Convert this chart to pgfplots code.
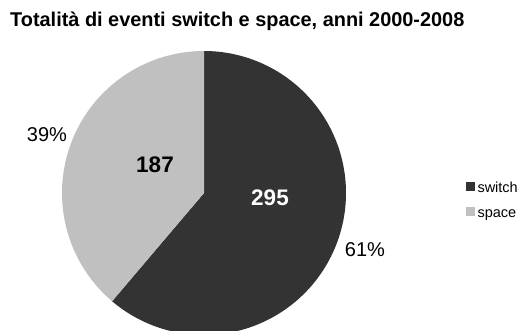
\documentclass[border=0pt]{standalone}
\usepackage{pgfplots}
\pgfplotsset{compat=1.18}
\usepackage{fontspec}
\setmainfont{Liberation Sans}
\definecolor{dk}{HTML}{333333}
\definecolor{lt}{HTML}{C0C0C0}
\begin{document}
\begin{tikzpicture}[x=1pt,y=1pt]
\pgfmathsetmacro{\vA}{295}
\pgfmathsetmacro{\vB}{187}
\pgfmathsetmacro{\frA}{\vA/(\vA+\vB)}
\pgfmathsetmacro{\angA}{90-360*\frA}
\pgfmathsetmacro{\angB}{\angA+360}
\begin{axis}[at={(0,0)}, anchor=origin, x=1pt, y=1pt,
  xmin=0, xmax=524, ymin=0, ymax=331, hide axis, clip=true,
  legend style={at={(axis cs:466,149)}, anchor=north west, draw=none, fill=none,
    inner sep=0pt, outer sep=0pt, row sep=10pt,
    font=\fontsize{14.5}{14.5}\selectfont,
    nodes={inner sep=1pt, text height=9pt, text depth=3pt},
    /tikz/every odd column/.append style={column sep=1.5pt}},
  legend cell align=left,
  legend image code/.code={\fill[#1] (0pt,-1pt) rectangle (9pt,8pt);}]
\addplot[fill=dk, draw=none, domain=\angA:90, samples=200] ({204+142*cos(x)},{138+142*sin(x)}) -- (axis cs:204,138) -- cycle;
\addlegendentry{switch}
\addplot[fill=lt, draw=none, domain=90:\angB, samples=200] ({204+142*cos(x)},{138+142*sin(x)}) -- (axis cs:204,138) -- cycle;
\addlegendentry{space}
\end{axis}
\node[anchor=base west, inner sep=0pt, font=\bfseries\fontsize{19.9}{20}\selectfont] at (10,304.3) {Totalità di eventi switch e space, anni 2000-2008};
\node[inner sep=0pt, font=\bfseries\fontsize{22.5}{22}\selectfont] at (155,166) {187};
\node[inner sep=0pt, text=white, font=\bfseries\fontsize{22.5}{22}\selectfont] at (270,133) {295};
\node[inner sep=0pt, font=\fontsize{20}{20}\selectfont] at (47,196) {39\%};
\node[inner sep=0pt, font=\fontsize{20}{20}\selectfont] at (365,81) {61\%};
\pgfresetboundingbox
\path[use as bounding box] (0,0) rectangle (524,331);
\end{tikzpicture}
\end{document}
